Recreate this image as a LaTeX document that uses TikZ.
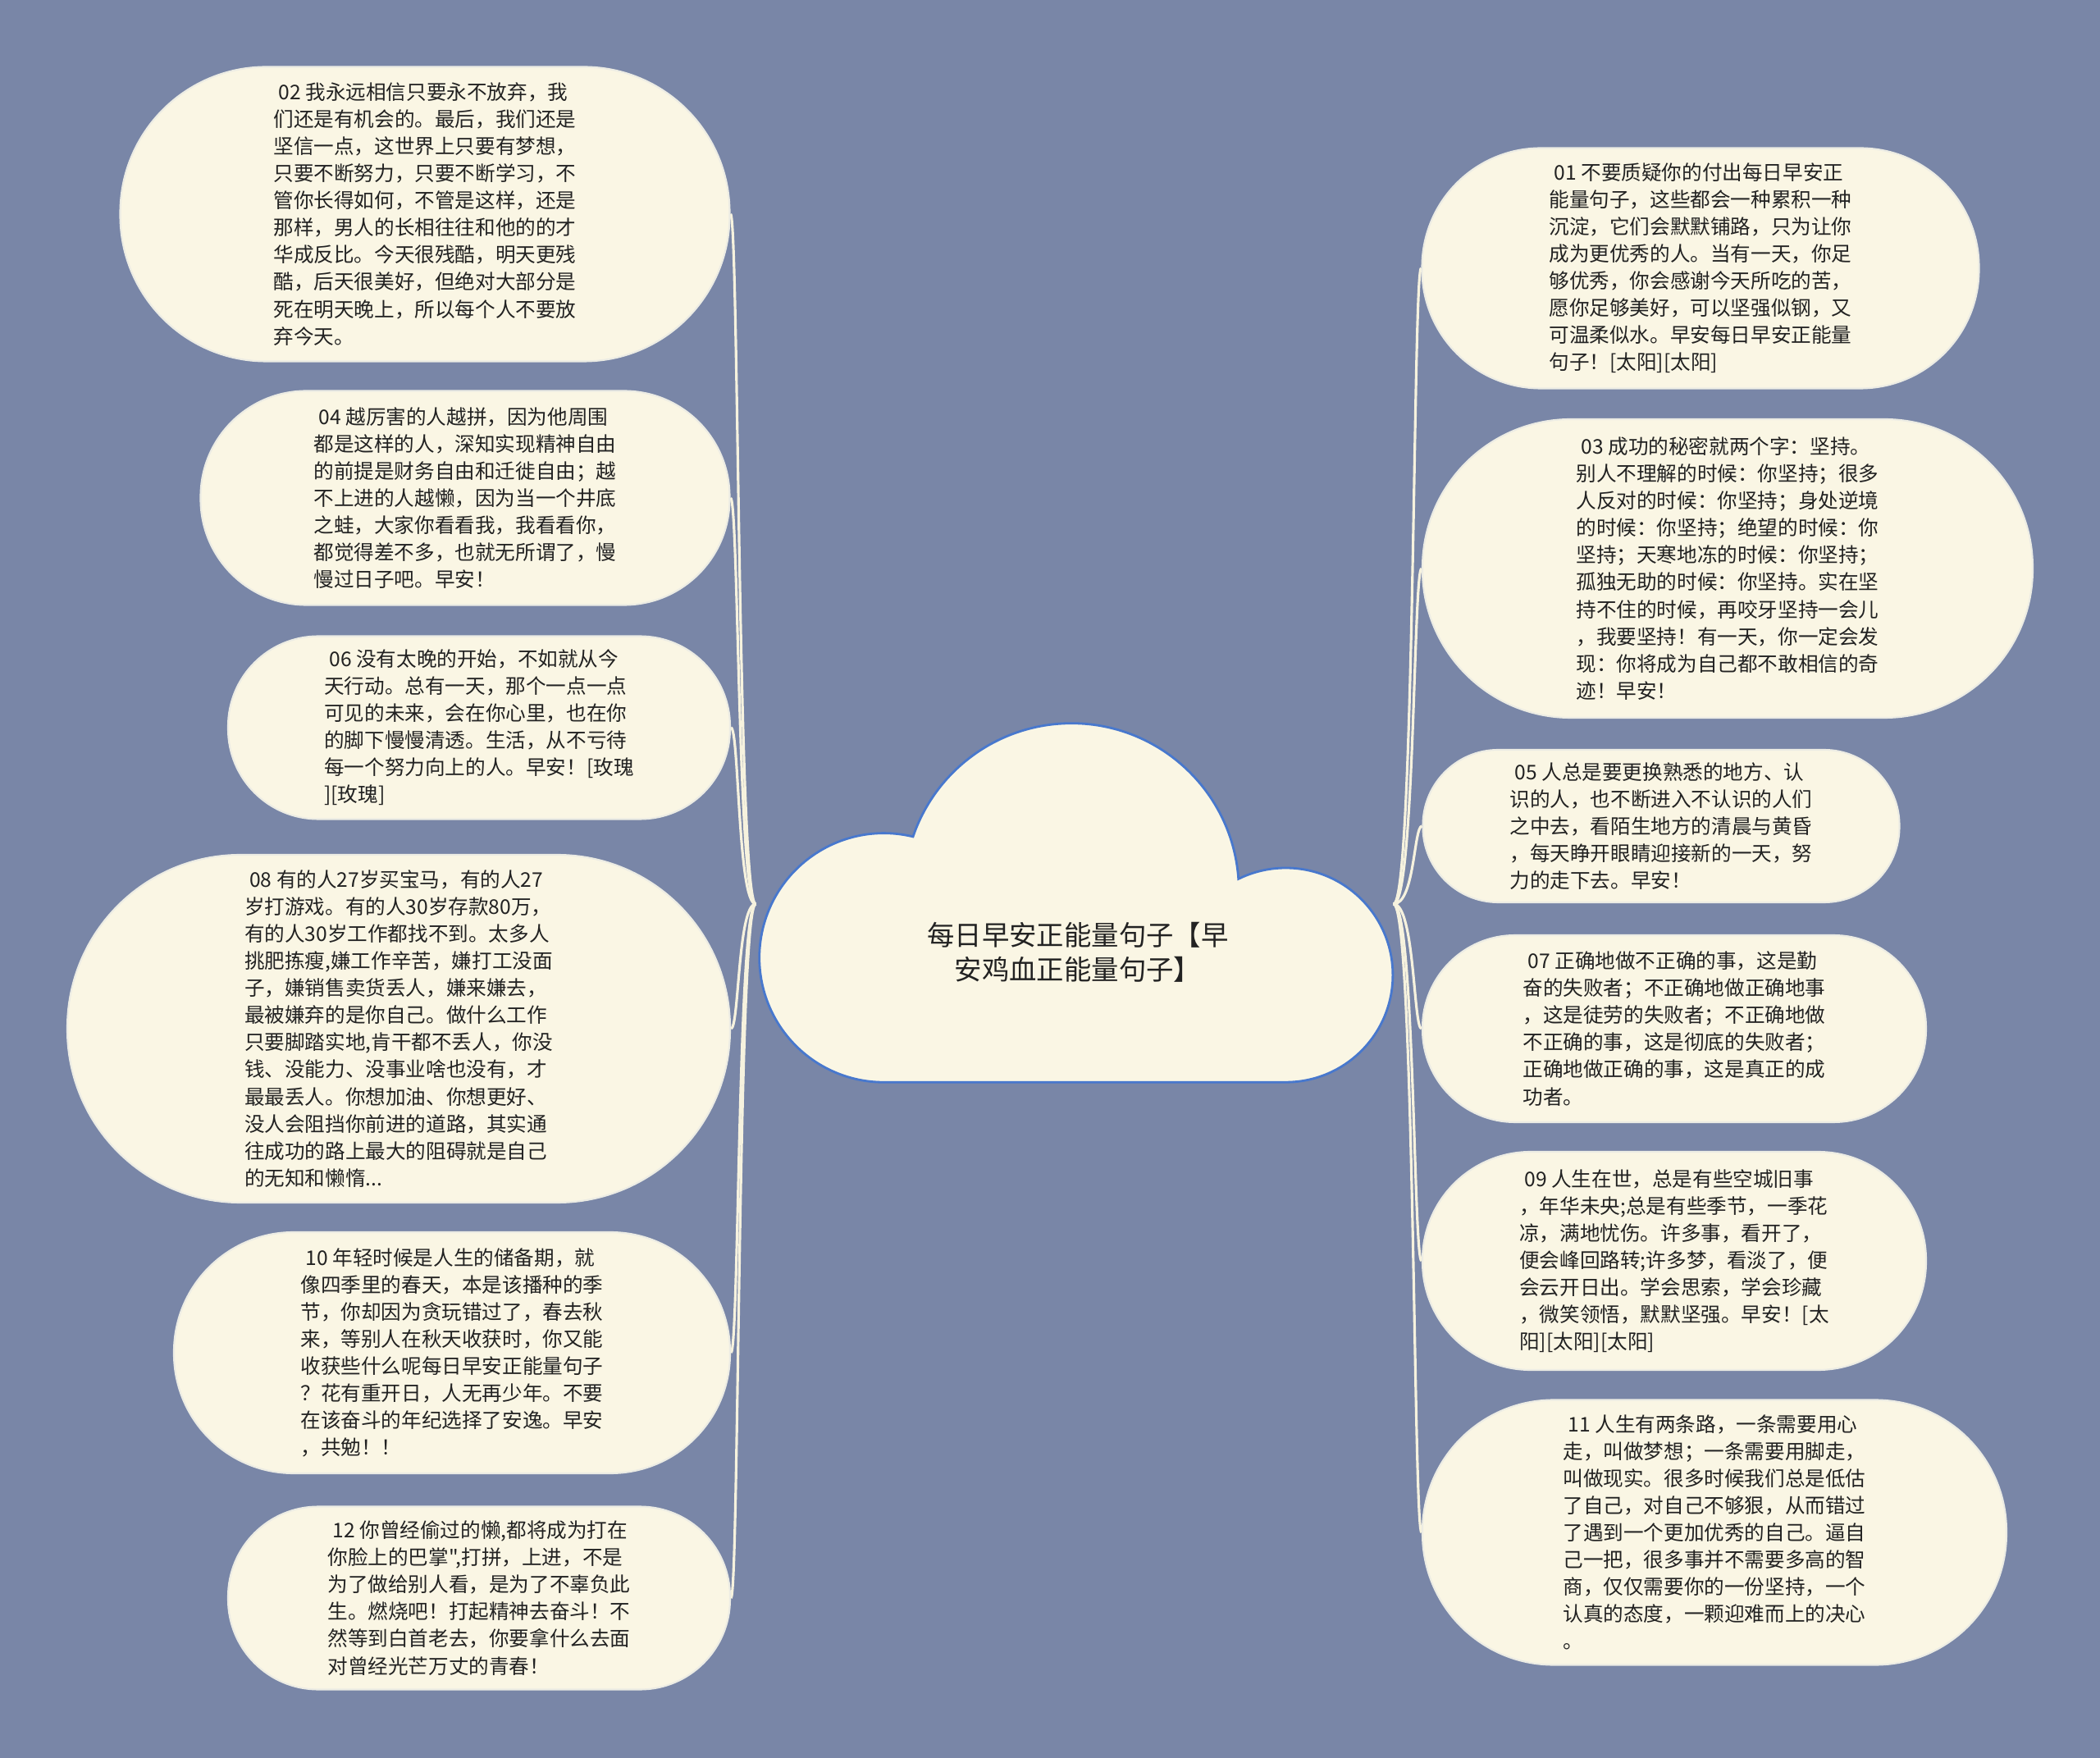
\documentclass[tikz,border=0pt]{standalone}
\usepackage{fontspec}
\usepackage{xcolor}
\newfontfamily\cjk{Noto Sans CJK SC}
\definecolor{pagebg}{RGB}{121,134,167}
\definecolor{leafbg}{RGB}{250,246,228}
\definecolor{leafline}{RGB}{236,236,228}
\definecolor{cloudline}{RGB}{72,120,205}
\definecolor{linkline}{RGB}{246,242,222}
\definecolor{inktext}{RGB}{34,34,34}
\pgfdeclarelayer{back}
\pgfdeclarelayer{links}
\pgfsetlayers{back,links,main}

\begin{document}
\begin{tikzpicture}[
  leaf/.style={draw=leafline, line width=0.6pt, fill=leafbg, inner sep=0pt,
    align=left, text=inktext, font=\cjk\fontsize{7}{9.4}\selectfont},
  link/.style={draw=linkline, line width=0.9pt}]

% Page
\begin{pgfonlayer}{back}
\fill[pagebg] (0,0) rectangle (25.6,-21.43);
\end{pgfonlayer}
\useasboundingbox (0,0) rectangle (25.6,-21.43);

% Centre cloud
\draw[cloudline, fill=leafbg, line width=0.8pt] (10.775,-13.192) -- (15.673,-13.192)
  arc[start angle=-90, end angle=116.15, radius=1.306]
  arc[start angle=4.05, end angle=161.16, radius=2.041]
  arc[start angle=76.47, end angle=270, radius=1.518] -- cycle;
\node[minimum width=7.76cm, minimum height=4.40cm, inner sep=0pt] (root) at (13.10,-11.02) {};
\node[font=\cjk\fontsize{9.5}{12}\selectfont, align=center, text=inktext] (title) at (13.14,-11.61)
  {每日早安正能量句子【早\\安鸡血正能量句子】};

% Left branch
\node[leaf, minimum width=7.43cm, minimum height=3.59cm, rounded corners=1.78cm] (n02) at (5.18,-2.61)
  {\hspace*{0.25em}02 我永远相信只要永不放弃，我\\们还是有机会的。最后，我们还是\\坚信一点，这世界上只要有梦想，\\只要不断努力，只要不断学习，不\\管你长得如何，不管是这样，还是\\那样，男人的长相往往和他的的才\\华成反比。今天很残酷，明天更残\\酷，后天很美好，但绝对大部分是\\死在明天晚上，所以每个人不要放\\弃今天。};
\node[leaf, minimum width=6.45cm, minimum height=2.61cm, rounded corners=1.29cm] (n04) at (5.67,-6.07)
  {\hspace*{0.25em}04 越厉害的人越拼，因为他周围\\都是这样的人，深知实现精神自由\\的前提是财务自由和迁徙自由；越\\不上进的人越懒，因为当一个井底\\之蛙，大家你看看我，我看看你，\\都觉得差不多，也就无所谓了，慢\\慢过日子吧。早安！};
\node[leaf, minimum width=6.12cm, minimum height=2.23cm, rounded corners=1.10cm] (n06) at (5.84,-8.87)
  {\hspace*{0.25em}06 没有太晚的开始，不如就从今\\天行动。总有一天，那个一点一点\\可见的未来，会在你心里，也在你\\的脚下慢慢清透。生活，从不亏待\\每一个努力向上的人。早安！[玫瑰\\][玫瑰]};
\node[leaf, minimum width=8.08cm, minimum height=4.24cm, rounded corners=2.11cm] (n08) at (4.86,-12.54)
  {\hspace*{0.25em}08 有的人27岁买宝马，有的人27\\岁打游戏。有的人30岁存款80万，\\有的人30岁工作都找不到。太多人\\挑肥拣瘦,嫌工作辛苦，嫌打工没面\\子，嫌销售卖货丢人，嫌来嫌去，\\最被嫌弃的是你自己。做什么工作\\只要脚踏实地,肯干都不丢人，你没\\钱、没能力、没事业啥也没有，才\\最最丢人。你想加油、你想更好、\\没人会阻挡你前进的道路，其实通\\往成功的路上最大的阻碍就是自己\\的无知和懒惰...};
\node[leaf, minimum width=6.78cm, minimum height=2.94cm, rounded corners=1.46cm] (n10) at (5.51,-16.49)
  {\hspace*{0.25em}10 年轻时候是人生的储备期，就\\像四季里的春天，本是该播种的季\\节，你却因为贪玩错过了，春去秋\\来，等别人在秋天收获时，你又能\\收获些什么呢每日早安正能量句子\\？花有重开日，人无再少年。不要\\在该奋斗的年纪选择了安逸。早安\\，共勉！！};
\node[leaf, minimum width=6.12cm, minimum height=2.23cm, rounded corners=1.10cm] (n12) at (5.84,-19.48)
  {\hspace*{0.25em}12 你曾经偷过的懒,都将成为打在\\你脸上的巴掌",打拼，上进，不是\\为了做给别人看，是为了不辜负此\\生。燃烧吧！打起精神去奋斗！不\\然等到白首老去，你要拿什么去面\\对曾经光芒万丈的青春！};

% Right branch
\node[leaf, minimum width=6.79cm, minimum height=2.93cm, rounded corners=1.45cm] (n01) at (20.73,-3.27)
  {\hspace*{0.25em}01 不要质疑你的付出每日早安正\\能量句子，这些都会一种累积一种\\沉淀，它们会默默铺路，只为让你\\成为更优秀的人。当有一天，你足\\够优秀，你会感谢今天所吃的苦，\\愿你足够美好，可以坚强似钢，又\\可温柔似水。早安每日早安正能量\\句子！[太阳][太阳]};
\node[leaf, minimum width=7.44cm, minimum height=3.64cm, rounded corners=1.81cm] (n03) at (21.06,-6.93)
  {\hspace*{0.25em}03 成功的秘密就两个字：坚持。\\别人不理解的时候：你坚持；很多\\人反对的时候：你坚持；身处逆境\\的时候：你坚持；绝望的时候：你\\坚持；天寒地冻的时候：你坚持；\\孤独无助的时候：你坚持。实在坚\\持不住的时候，再咬牙坚持一会儿\\，我要坚持！有一天，你一定会发\\现：你将成为自己都不敢相信的奇\\迹！早安！};
\node[leaf, minimum width=5.81cm, minimum height=1.86cm, rounded corners=0.92cm] (n05) at (20.25,-10.07)
  {\hspace*{0.25em}05 人总是要更换熟悉的地方、认\\识的人，也不断进入不认识的人们\\之中去，看陌生地方的清晨与黄昏\\，每天睁开眼睛迎接新的一天，努\\力的走下去。早安！};
\node[leaf, minimum width=6.14cm, minimum height=2.28cm, rounded corners=1.13cm] (n07) at (20.41,-12.54)
  {\hspace*{0.25em}07 正确地做不正确的事，这是勤\\奋的失败者；不正确地做正确地事\\，这是徒劳的失败者；不正确地做\\不正确的事，这是彻底的失败者；\\正确地做正确的事，这是真正的成\\功者。};
\node[leaf, minimum width=6.14cm, minimum height=2.66cm, rounded corners=1.32cm] (n09) at (20.41,-15.37)
  {\hspace*{0.25em}09 人生在世，总是有些空城旧事\\，年华未央;总是有些季节，一季花\\凉，满地忧伤。许多事，看开了，\\便会峰回路转;许多梦，看淡了，便\\会云开日出。学会思索，学会珍藏\\，微笑领悟，默默坚强。早安！[太\\阳][太阳][太阳]};
\node[leaf, minimum width=7.12cm, minimum height=3.23cm, rounded corners=1.60cm] (n11) at (20.90,-18.68)
  {\hspace*{0.25em}11 人生有两条路，一条需要用心\\走，叫做梦想；一条需要用脚走，\\叫做现实。很多时候我们总是低估\\了自己，对自己不够狠，从而错过\\了遇到一个更加优秀的自己。逼自\\己一把，很多事并不需要多高的智\\商，仅仅需要你的一份坚持，一个\\认真的态度，一颗迎难而上的决心\\。};

% Connectors
\begin{pgfonlayer}{links}
\draw[link] (root.west) .. controls +(-0.22,0) and +(0.1,0) .. (n02.east);
\draw[link] (root.west) .. controls +(-0.22,0) and +(0.1,0) .. (n04.east);
\draw[link] (root.west) .. controls +(-0.22,0) and +(0.1,0) .. (n06.east);
\draw[link] (root.west) .. controls +(-0.22,0) and +(0.1,0) .. (n08.east);
\draw[link] (root.west) .. controls +(-0.22,0) and +(0.1,0) .. (n10.east);
\draw[link] (root.west) .. controls +(-0.22,0) and +(0.1,0) .. (n12.east);
\draw[link] (root.east) .. controls +(0.26,0) and +(-0.1,0) .. (n01.west);
\draw[link] (root.east) .. controls +(0.26,0) and +(-0.1,0) .. (n03.west);
\draw[link] (root.east) .. controls +(0.26,0) and +(-0.1,0) .. (n05.west);
\draw[link] (root.east) .. controls +(0.26,0) and +(-0.1,0) .. (n07.west);
\draw[link] (root.east) .. controls +(0.26,0) and +(-0.1,0) .. (n09.west);
\draw[link] (root.east) .. controls +(0.26,0) and +(-0.1,0) .. (n11.west);
\end{pgfonlayer}
\end{tikzpicture}
\end{document}
